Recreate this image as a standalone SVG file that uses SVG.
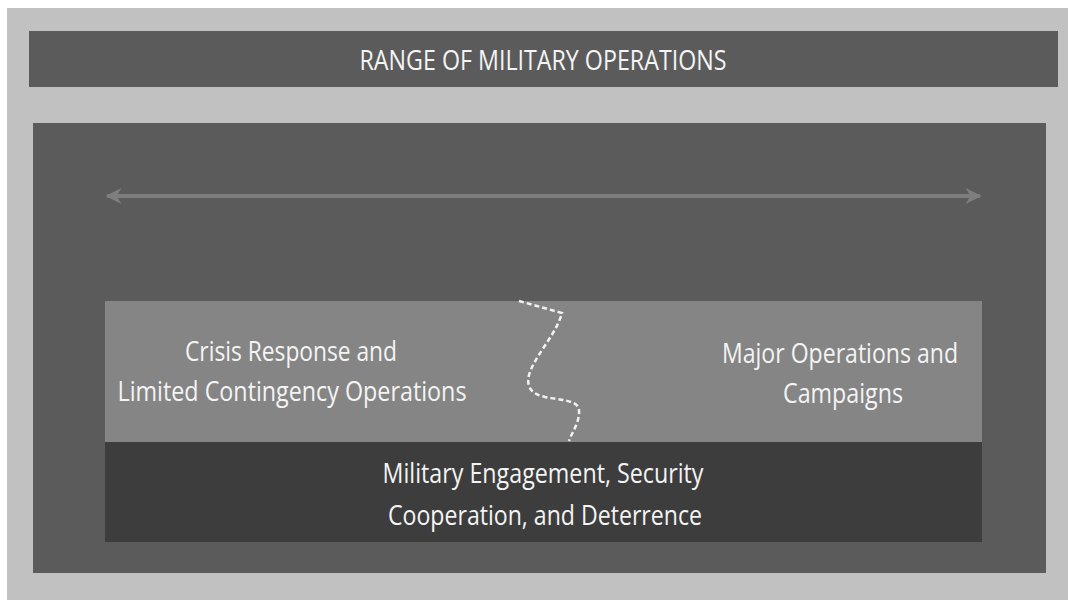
<svg xmlns="http://www.w3.org/2000/svg" width="1068" height="602" viewBox="0 0 1068 602">
<style>
.t{font-family:"Open Sans","Liberation Sans",sans-serif;fill:#f4f4f4;text-anchor:middle}
</style>
<defs>
<marker id="ah" viewBox="0 0 10 10" refX="9" refY="5" markerWidth="4" markerHeight="4" orient="auto-start-reverse" markerUnits="strokeWidth">
<path d="M0,0 L10,5 L0,10 L3,5 Z" fill="#7e7e7e"/>
</marker>
</defs>
<rect x="0" y="0" width="1068" height="602" fill="#ffffff"/>
<rect x="7" y="8" width="1061" height="592" fill="#c1c1c1"/>
<g id="title">
<rect x="29" y="31" width="1029" height="56" fill="#5b5b5b"/>
<text class="t" x="543" y="70" font-size="28" textLength="367" lengthAdjust="spacingAndGlyphs">RANGE OF MILITARY OPERATIONS</text>
</g>
<g id="panel">
<rect x="33" y="123" width="1013" height="450" fill="#5b5b5b"/>
</g>
<g id="crisis-major">
<rect x="105" y="301" width="877" height="141" fill="#858585"/>
<text class="t" x="291" y="361" font-size="28" textLength="212" lengthAdjust="spacingAndGlyphs">Crisis Response and</text>
<text class="t" x="292" y="401" font-size="28" textLength="349" lengthAdjust="spacingAndGlyphs">Limited Contingency Operations</text>
<text class="t" x="840" y="363" font-size="28" textLength="236" lengthAdjust="spacingAndGlyphs">Major Operations and</text>
<text class="t" x="843" y="403" font-size="28" textLength="120" lengthAdjust="spacingAndGlyphs">Campaigns</text>
</g>
<g id="engagement">
<rect x="105" y="442" width="877" height="100" fill="#3d3d3d"/>
<text class="t" x="543" y="483" font-size="28" textLength="321" lengthAdjust="spacingAndGlyphs">Military Engagement, Security</text>
<text class="t" x="545" y="525" font-size="28" textLength="314" lengthAdjust="spacingAndGlyphs">Cooperation, and Deterrence</text>
</g>
<g id="connectors">
<line x1="107" y1="196" x2="980" y2="196" stroke="#7e7e7e" stroke-width="4" marker-start="url(#ah)" marker-end="url(#ah)"/>
<path d="M519,301 L562,313 C556,335 535,355 529,375 C526,388 532,394 545,397 C560,400 578,400 579,410 C580,422 572,432 569,441" fill="none" stroke="#f2f2f2" stroke-width="2.5" stroke-dasharray="5,3"/>
</g>
</svg>
